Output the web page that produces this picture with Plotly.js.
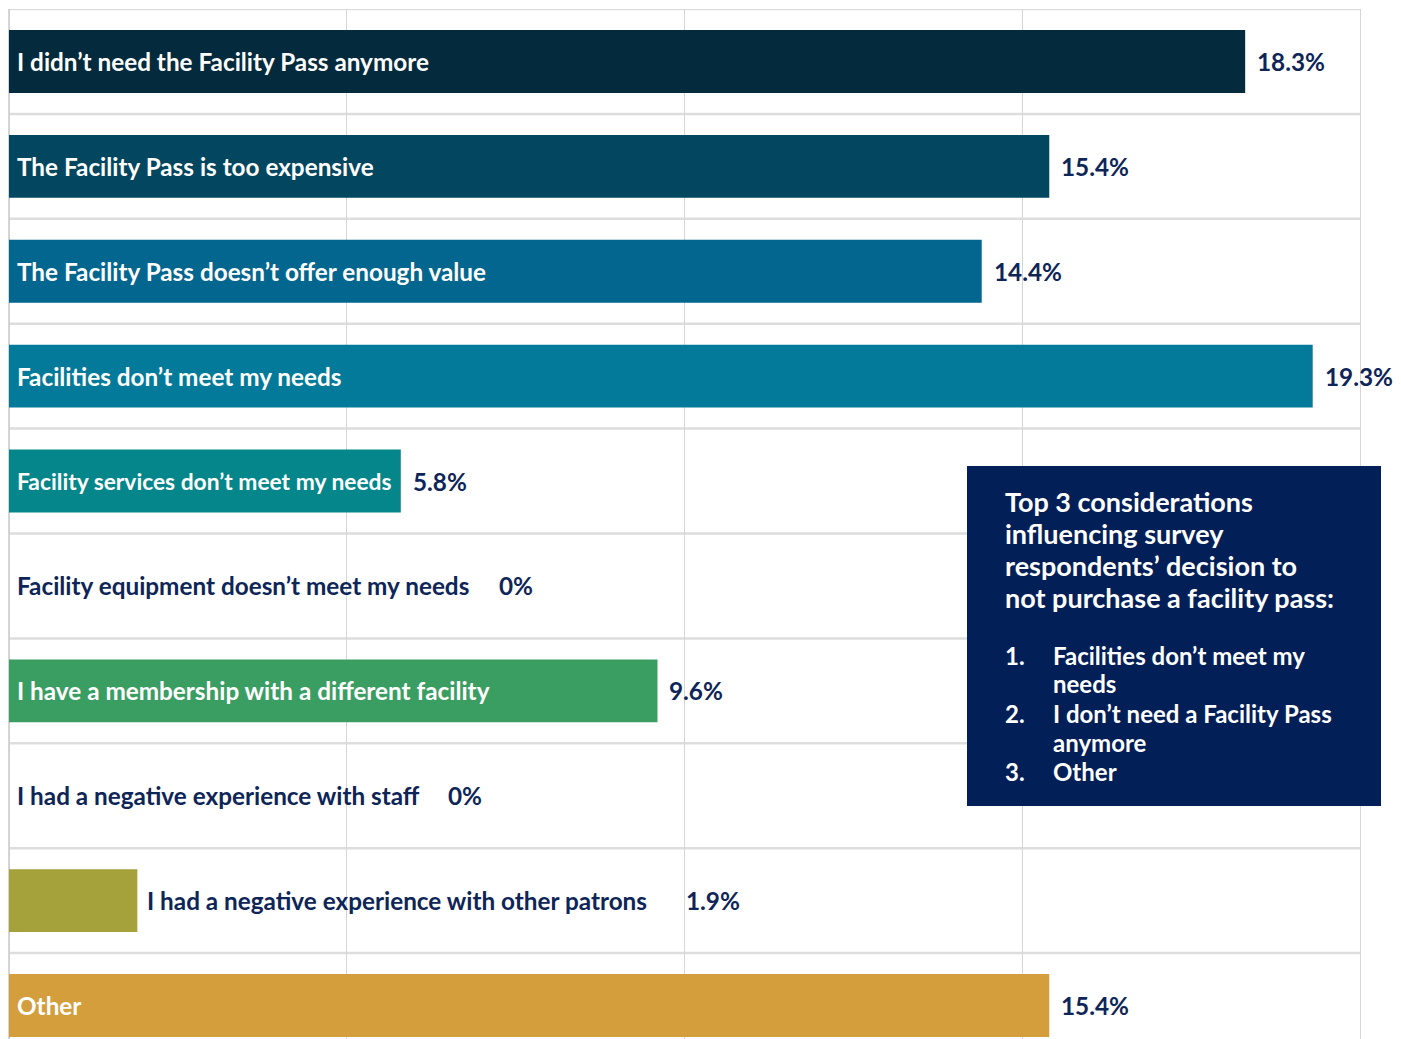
<!DOCTYPE html>
<html><head><meta charset="utf-8">
<script src="https://cdn.plot.ly/plotly-3.0.1.min.js"></script>
<style>body{margin:0;background:#fff}#chart{width:1401px;height:1039px}</style>
</head><body><div id="chart"></div>
<script>
// ---- data ----
const categories = [
  "I didn’t need the Facility Pass anymore",
  "The Facility Pass is too expensive",
  "The Facility Pass doesn’t offer enough value",
  "Facilities don’t meet my needs",
  "Facility services don’t meet my needs",
  "Facility equipment doesn’t meet my needs",
  "I have a membership with a different facility",
  "I had a negative experience with staff",
  "I had a negative experience with other patrons",
  "Other"
];
const values = [18.3, 15.4, 14.4, 19.3, 5.8, 0, 9.6, 0, 1.9, 15.4];
const valueLabels = ["18.3%", "15.4%", "14.4%", "19.3%", "5.8%", "0%", "9.6%", "0%", "1.9%", "15.4%"];
const boxTitleLines = ["Top 3 considerations", "influencing survey", "respondents’ decision to", "not purchase a facility pass:"];
const topReasonNumbers = ["1.", "2.", "3."];
const topReasonLines = [["Facilities don’t meet my", "needs"], ["I don’t need a Facility Pass", "anymore"], ["Other"]];

// ---- style ----
const barColors = ["#042b3d", "#03465f", "#03668f", "#037a99", "#04868a", "#04868a", "#3a9e63", "#3a9e63", "#a6a23b", "#d49e3c"];
const NAVY = "#0e2558";
const BOX = "#021f58";
const FONT = "Lato, 'Open Sans', sans-serif";
const W = 1401, H = 1039;
const M = {l: 9, r: 41, t: 9, b: 0};
const plotW = W - M.l - M.r, plotH = H - M.t - M.b;
const pitch = 104.9;
const catFont = 24.3, valFont = 24.3, headFont = 27, listFont = 24;

const ctx = document.createElement('canvas').getContext('2d');
function textW(s, size) { ctx.font = "700 " + size + "px Lato"; return ctx.measureText(s).width; }
const pxPerUnit = plotW / 20;
const px2x = px => (px - M.l) / plotW;
const px2y = py => (H - M.b - py) / plotH;

const annotations = [];
categories.forEach((c, i) => {
  const inside = values[i] >= 5;
  const labelShift = inside ? 6 : (values[i] > 0 ? 8 : 6);
  const labelX = inside ? 0 : values[i];
  let size = catFont;
  if (inside) {
    const avail = values[i] * pxPerUnit - labelShift - 10;
    const w = textW(c, catFont);
    if (w > avail) size = catFont * avail / w;
  }
  annotations.push({
    x: labelX, y: i, xref: 'x', yref: 'y', xanchor: 'left', yanchor: 'middle',
    xshift: labelShift, text: c, showarrow: false,
    font: {family: FONT, size: size, weight: 700, color: inside ? '#ffffff' : NAVY}
  });
  let vShift;
  if (inside) vShift = 10;
  else vShift = labelShift + textW(c, catFont) + (values[i] > 0 ? 38 : 28);
  annotations.push({
    x: values[i], y: i, xref: 'x', yref: 'y', xanchor: 'left', yanchor: 'middle',
    xshift: vShift, text: valueLabels[i], showarrow: false,
    font: {family: FONT, size: valFont, weight: 700, color: NAVY}
  });
});

// text box
boxTitleLines.forEach((t, k) => {
  annotations.push({
    x: px2x(1003), y: px2y(501 + 32 * k), xref: 'paper', yref: 'paper', xanchor: 'left', yanchor: 'middle',
    text: t, showarrow: false, font: {family: FONT, size: headFont, weight: 700, color: '#ffffff'}
  });
});
let lineIdx = 0;
topReasonLines.forEach((lines, n) => {
  annotations.push({
    x: px2x(1003), y: px2y(655 + 29 * lineIdx), xref: 'paper', yref: 'paper', xanchor: 'left', yanchor: 'middle',
    text: topReasonNumbers[n], showarrow: false, font: {family: FONT, size: listFont, weight: 700, color: '#ffffff'}
  });
  lines.forEach(t => {
    annotations.push({
      x: px2x(1051), y: px2y(655 + 29 * lineIdx), xref: 'paper', yref: 'paper', xanchor: 'left', yanchor: 'middle',
      text: t, showarrow: false, font: {family: FONT, size: listFont, weight: 700, color: '#ffffff'}
    });
    lineIdx++;
  });
});

const shapes = [];
for (let i = 0; i <= categories.length; i++) {
  shapes.push({type: 'line', xref: 'paper', yref: 'y', x0: 0, x1: 1, y0: i - 0.5, y1: i - 0.5,
    line: {color: '#dddddd', width: 2.5}, layer: 'below'});
}
shapes.push({type: 'rect', xref: 'paper', yref: 'paper', x0: px2x(967), x1: px2x(1381), y0: px2y(806), y1: px2y(466),
  fillcolor: BOX, line: {width: 0}, layer: 'above'});

const visibleRows = plotH / pitch;
const trace = {
  type: 'bar', orientation: 'h', x: values, y: categories,
  marker: {color: barColors, line: {width: 0}}, width: 0.6,
  hoverinfo: 'none', textposition: 'none'
};

const layout = {
  width: W, height: H, margin: M, paper_bgcolor: '#ffffff', plot_bgcolor: '#ffffff',
  showlegend: false, bargap: 0.4,
  xaxis: {range: [0, 20], dtick: 5, tick0: 0, showgrid: true, gridcolor: '#d6d6d6', gridwidth: 1,
    showticklabels: false, zeroline: true, zerolinecolor: '#d0d0d0', zerolinewidth: 1.5, fixedrange: true, ticks: ''},
  yaxis: {type: 'category', range: [visibleRows - 0.5, -0.5], showgrid: false, showticklabels: false,
    zeroline: false, fixedrange: true, ticks: '', showline: true, mirror: true, linecolor: '#d6d6d6', linewidth: 1},
  shapes: shapes, annotations: annotations
};
Plotly.newPlot('chart', [trace], layout, {displayModeBar: false, staticPlot: true});
</script></body></html>
